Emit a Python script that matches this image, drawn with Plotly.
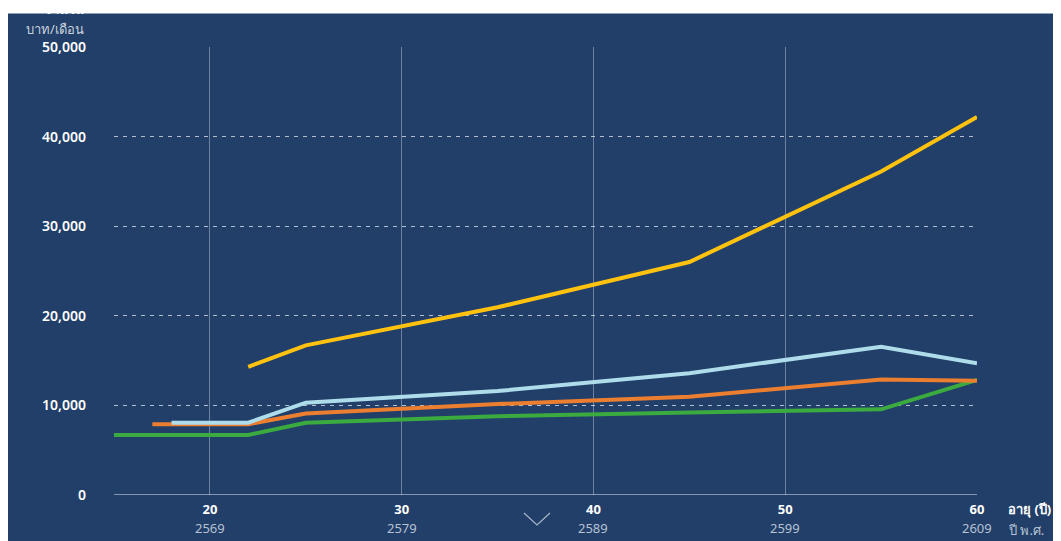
import plotly.graph_objects as go

# ---- data ----
ages_green = [15, 22, 25, 35, 45, 55, 60]
green_vals = [6700, 6700, 8070, 8800, 9200, 9560, 12850]

ages_orange = [17, 22, 25, 35, 45, 55, 60]
orange_vals = [7900, 7900, 9100, 10150, 10970, 12900, 12750]

ages_blue = [18, 22, 25, 35, 45, 55, 60]
blue_vals = [8070, 8070, 10300, 11600, 13600, 16550, 14700]

ages_yellow = [22, 25, 35, 45, 55, 60]
yellow_vals = [14300, 16700, 20950, 26000, 36100, 42200]

x_ticks = [20, 30, 40, 50, 60]
x_years = ["2569", "2579", "2589", "2599", "2609"]
y_ticks = [0, 10000, 20000, 30000, 40000, 50000]

BG = "#213F69"
FONT = "Noto Sans, Lato, sans-serif"

# the page body adds an 8px offset; work in reference-page pixels
OFF = 8
W, H = 1061 - OFF, 541 - OFF
L, R, T, B = 114 - OFF, 977 - OFF, 47 - OFF, 495 - OFF


def X(px):
    return (px - OFF - L) / (R - L)


def Y(py):
    return (B - (py - OFF)) / (B - T)


fig = go.Figure()
series = [
    (ages_green, green_vals, "#3BAA3F"),
    (ages_orange, orange_vals, "#EC7E30"),
    (ages_blue, blue_vals, "#AEDCEA"),
    (ages_yellow, yellow_vals, "#FFC20E"),
]
for xs, ys, c in series:
    fig.add_trace(go.Scatter(x=xs, y=ys, mode="lines",
                             line=dict(color=c, width=4),
                             hoverinfo="skip", showlegend=False))

fig.update_layout(
    width=W, height=H,
    margin=dict(l=L, r=W - R, t=T, b=H - B, pad=0),
    paper_bgcolor="white",
    plot_bgcolor=BG,
    font=dict(family=FONT, color="white", size=13),
    xaxis=dict(range=[15, 60], tickvals=x_ticks,
               ticktext=[f"<b>{a}</b>" for a in x_ticks],
               showgrid=True, gridcolor="rgba(255,255,255,0.35)", gridwidth=1,
               zeroline=False, showline=False, ticks="", ticklabelstandoff=5,
               tickfont=dict(size=13, color="white", family=FONT)),
    yaxis=dict(range=[0, 50000], tickvals=y_ticks, tickformat=",d",
               showgrid=True, gridcolor="rgba(220,228,238,0.78)", gridwidth=1.4,
               griddash="4px,5px", zeroline=False, showline=False,
               ticks="", ticklabelstandoff=27,
               tickfont=dict(size=14, color="white", family=FONT, weight=600)),
)

# dark background panel (page has thin white border on left/top)
fig.add_shape(type="rect", xref="paper", yref="paper", layer="below",
              x0=X(6), x1=X(1061 + 4), y0=Y(541 + 4), y1=Y(13.5),
              fillcolor=BG, line=dict(width=0))
# solid baseline at 0
fig.add_shape(type="line", xref="paper", yref="y", layer="below",
              x0=0, x1=1, y0=0, y1=0,
              line=dict(color="rgba(220,228,238,0.7)", width=1.6))
# chevron
fig.add_shape(type="path", xref="paper", yref="paper",
              path=f"M {X(524)},{Y(513)} L {X(537)},{Y(525)} L {X(550)},{Y(513)}",
              line=dict(color="rgba(200,210,225,0.8)", width=1.2))

# year labels under the age ticks
for a, yr in zip(x_ticks, x_years):
    fig.add_annotation(xref="x", yref="paper", x=a, y=Y(528), text=yr,
                       showarrow=False, xanchor="center", yanchor="middle",
                       font=dict(size=13, color="#B7C2D3", family=FONT))

ann = [
    dict(text="จำนวน", x=X(86), y=Y(9), xanchor="right", yanchor="middle",
         font=dict(size=13, color="white")),
    dict(text="บาท/เดือน", x=X(86), y=Y(29), xanchor="right", yanchor="middle",
         font=dict(size=13, color="#C9D1DD")),
    dict(text="<b>อายุ (ปี)</b>", x=X(1006), y=Y(509), xanchor="left", yanchor="middle",
         font=dict(size=13, color="white")),
    dict(text="ปี พ.ศ.", x=X(1006), y=Y(530), xanchor="left", yanchor="middle",
         font=dict(size=13, color="#B7C2D3")),
]
for a in ann:
    fig.add_annotation(xref="paper", yref="paper", showarrow=False, **a)

fig.write_html("out.html")
